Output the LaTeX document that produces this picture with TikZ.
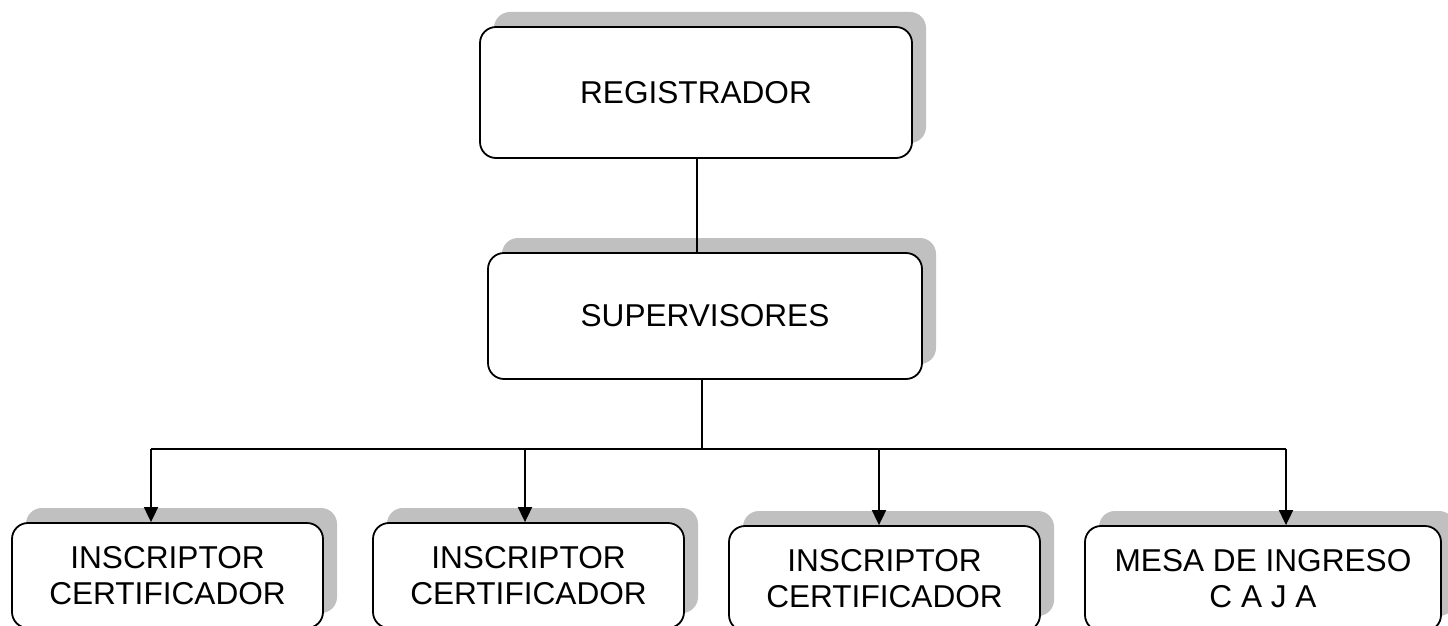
\documentclass[tikz,border=0pt]{standalone}
\usepackage{fontspec}
\setmainfont{Liberation Sans}
\usetikzlibrary{arrows.meta,shadows}
\definecolor{shadowgray}{HTML}{C0C0C0}
\tikzset{
  orgbox/.style={draw=black, line width=1.8pt, fill=white, rounded corners=16pt,
    inner sep=0pt, align=center,
    font=\fontsize{31.6}{36}\selectfont,
    drop shadow={shadow xshift=14pt, shadow yshift=15pt, fill=shadowgray, opacity=1, draw=none}},
  link/.style={line width=1.8pt, draw=black},
  arrowlink/.style={link, -{Triangle[length=15pt,width=14pt]}}
}
\begin{document}
\begin{tikzpicture}[x=1pt,y=-1pt]
\useasboundingbox (0,0) rectangle (1448,626);
\clip (0,0) rectangle (1448,626);
\fill[white] (0,0) rectangle (1448,626);

\node[orgbox, minimum width=432pt, minimum height=131pt] (reg) at (696,92.5) {REGISTRADOR};
\node[orgbox, minimum width=434pt, minimum height=126pt] (sup) at (705,316) {SUPERVISORES};

\node[orgbox, minimum width=311pt, minimum height=105pt] (b1) at (167.5,575.5) {INSCRIPTOR\\CERTIFICADOR};
\node[orgbox, minimum width=311pt, minimum height=105pt] (b2) at (528.5,575.5) {INSCRIPTOR\\CERTIFICADOR};
\node[orgbox, minimum width=311pt, minimum height=105pt] (b3) at (884.5,578.5) {INSCRIPTOR\\CERTIFICADOR};
\node[orgbox, minimum width=356pt, minimum height=105pt] (b4) at (1263,578.5) {MESA DE INGRESO\\C A J A};

\coordinate (c0) at (697,0);
\coordinate (cs) at (702,449);
\coordinate (k1) at (151,449);
\coordinate (k2) at (525,449);
\coordinate (k3) at (879,449);
\coordinate (k4) at (1286,449);

\draw[link] (reg.south -| c0) -- (sup.north -| c0);
\draw[link] (sup.south -| cs) -- (cs);
\draw[link] (k1) -- (k4);
\draw[arrowlink] (k1) -- (k1 |- b1.north);
\draw[arrowlink] (k2) -- (k2 |- b2.north);
\draw[arrowlink] (k3) -- (k3 |- b3.north);
\draw[arrowlink] (k4) -- (k4 |- b4.north);
\end{tikzpicture}
\end{document}
